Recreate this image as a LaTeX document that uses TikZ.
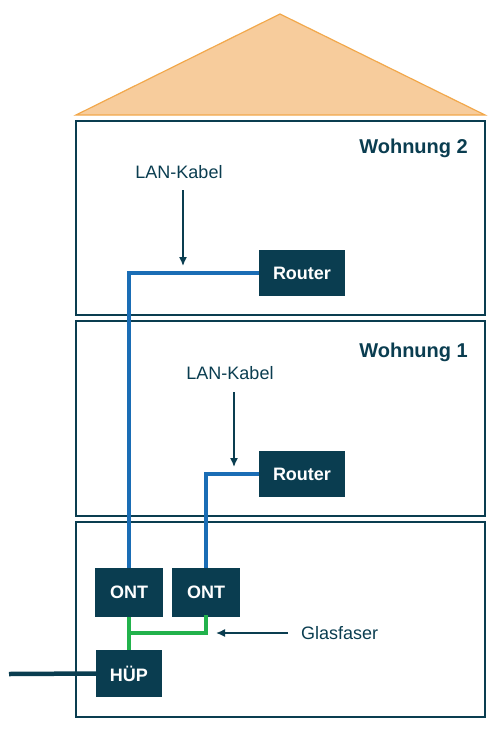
\documentclass[tikz,border=0pt]{standalone}
\usepackage{fontspec}
\setmainfont{Liberation Sans}
\usepackage{xcolor}
\usetikzlibrary{arrows.meta, positioning, calc}
\definecolor{housecolor}{HTML}{0A3D50}
\definecolor{lancolor}{HTML}{1A6DB5}
\definecolor{fibercolor}{HTML}{22B24C}
\definecolor{roofcolor}{HTML}{F7CC9C}
\definecolor{roofline}{HTML}{F2A84B}

\begin{document}
\begin{tikzpicture}[x=1pt, y=-1pt,
    device/.style={rectangle, fill=housecolor, text=white, inner sep=0pt, font=\fontsize{18}{20}\selectfont\bfseries},
    floor/.style={draw=housecolor, line width=1.2pt},
    lan/.style={draw=lancolor, line width=4pt},
    fiber/.style={draw=fibercolor, line width=4pt},
    hint/.style={draw=housecolor, line width=1.5pt, -{Latex[length=9pt, width=8pt]}},
    caption/.style={text=housecolor, inner sep=0pt, font=\fontsize{18}{20}\selectfont}]
    \useasboundingbox (0,0) rectangle (502,732);

    % Roof
    \filldraw[fill=roofcolor, draw=roofline, line width=1.2pt] (76,115) -- (280,14) -- (485,115) -- cycle;

    % Floors
    \draw[floor] (76,121) rectangle (485,315);
    \draw[floor] (76,321) rectangle (485,516);
    \draw[floor] (76,522) rectangle (485,717);

    % Floor labels
    \node[text=housecolor, inner sep=0pt, anchor=base east, font=\fontsize{20}{22}\selectfont\bfseries] (flat2) at (468,153) {Wohnung 2};
    \node[text=housecolor, inner sep=0pt, anchor=base east, font=\fontsize{20}{22}\selectfont\bfseries] (flat1) at (468,357) {Wohnung 1};

    % Devices
    \node[device, minimum width=86pt, minimum height=46pt] (router2) at (302,273) {Router};
    \node[device, minimum width=86pt, minimum height=46pt] (router1) at (302,474) {Router};
    \node[device, minimum width=68pt, minimum height=49pt] (ont1) at (129,592.5) {ONT};
    \node[device, minimum width=68pt, minimum height=49pt] (ont2) at (206,592.5) {ONT};
    \node[device, minimum width=66pt, minimum height=47pt] (hup) at (129,673.5) {HÜP};

    % LAN cables
    \draw[lan] (router2.west) -| (ont1.north);
    \draw[lan] (router1.west) -| (ont2.north);

    % Fiber
    \coordinate (splice) at (129,633);
    \draw[fiber] (ont1.south) -- (hup.north);
    \draw[fiber, line cap=rect] (ont2.south) |- (splice);

    % Outside line
    \coordinate (street) at (9,674);
    \draw[draw=housecolor, line width=4.5pt] (street) -- (hup.west);

    % Annotations
    \node[caption, anchor=base] (lan2) at (179,178) {LAN-Kabel};
    \coordinate (lan2tip) at (183,266);
    \draw[hint, shorten <=12pt] (lan2.south -| lan2tip) -- (lan2tip);

    \node[caption, anchor=base] (lan1) at (230,379) {LAN-Kabel};
    \coordinate (lan1tip) at (234,467);
    \draw[hint, shorten <=13pt] (lan1.south -| lan1tip) -- (lan1tip);

    \node[caption, anchor=west] (glas) at (301,633) {Glasfaser};
    \coordinate (glastip) at (216,633);
    \draw[hint, shorten <=13pt] (glas.west) -- (glastip);
\end{tikzpicture}
\end{document}
